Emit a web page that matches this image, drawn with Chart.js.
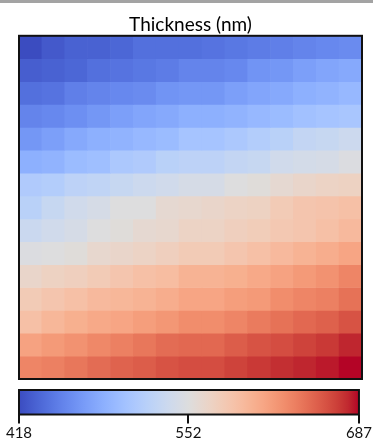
<!DOCTYPE html>
<html>
<head>
<meta charset="utf-8">
<script src="https://cdn.jsdelivr.net/npm/chart.js@4.4.0/dist/chart.umd.min.js"></script>
<style>
  html, body { margin: 0; padding: 0; background: #fff; }
  body { width: 373px; height: 439px; position: relative; overflow: hidden; }
  #topRule { position: absolute; left: 0; top: 0; width: 373px; height: 3px; background: #a3a3a3; }
  #heatWrap { position: absolute; left: 0; top: 0; width: 373px; height: 384px; }
  #barWrap { position: absolute; left: 0; top: 384px; width: 373px; height: 55px; }
</style>
</head>
<body>
<div id="topRule"></div>
<div id="heatWrap"><canvas id="heat"></canvas></div>
<div id="barWrap"><canvas id="cbar"></canvas></div>
<script>
// Film thickness map (nm), 15 x 15 measurement grid; row 0 is the top edge.
const columns = ['1','2','3','4','5','6','7','8','9','10','11','12','13','14','15'];
const rows    = ['1','2','3','4','5','6','7','8','9','10','11','12','13','14','15'];
const thickness = [
  [418, 426, 431, 431, 434, 440, 440, 440, 442, 445, 448, 450, 453, 456, 458],
  [429, 431, 434, 440, 442, 445, 448, 453, 453, 456, 464, 466, 472, 477, 480],
  [440, 442, 450, 453, 456, 458, 464, 466, 466, 472, 477, 480, 485, 488, 493],
  [453, 456, 461, 466, 472, 477, 480, 485, 485, 488, 493, 496, 501, 504, 507],
  [466, 472, 480, 485, 488, 493, 496, 504, 504, 509, 515, 520, 528, 531, 536],
  [485, 488, 496, 499, 509, 512, 520, 523, 523, 528, 531, 539, 542, 544, 550],
  [512, 515, 523, 526, 531, 536, 539, 544, 544, 552, 555, 561, 566, 569, 571],
  [520, 531, 539, 544, 552, 552, 561, 563, 566, 569, 571, 579, 585, 587, 590],
  [534, 539, 544, 552, 555, 561, 563, 569, 569, 574, 577, 582, 585, 590, 596],
  [550, 552, 555, 563, 566, 569, 574, 579, 579, 585, 590, 596, 601, 606, 612],
  [566, 571, 574, 579, 585, 590, 593, 601, 601, 604, 609, 614, 620, 625, 633],
  [579, 585, 590, 596, 598, 601, 606, 612, 612, 617, 620, 628, 633, 636, 644],
  [590, 598, 604, 609, 612, 617, 622, 628, 628, 633, 639, 644, 649, 653, 660],
  [614, 620, 625, 631, 636, 641, 647, 649, 649, 655, 660, 663, 668, 672, 679],
  [633, 636, 641, 647, 652, 655, 660, 663, 663, 668, 672, 676, 679, 682, 687]
];
const colorbarTicks = [418, 552, 687];
const vMin = 418;
const vMax = 687;

// Diverging blue-white-red colour map (coolwarm), 33 evenly spaced stops.
const coolwarm = [
  [59,76,192],[68,90,204],[77,104,215],[87,117,225],[98,130,234],[108,142,241],
  [119,154,247],[130,165,251],[141,176,254],[152,185,255],[163,194,255],[174,201,253],
  [184,208,249],[194,213,244],[204,217,238],[213,219,230],[221,221,221],[229,216,209],
  [236,211,197],[241,204,184],[245,196,172],[247,187,159],[247,177,145],[247,166,133],
  [244,154,120],[241,141,108],[236,127,97],[229,112,86],[222,96,76],[213,80,66],
  [203,62,56],[192,40,47],[180,4,38]
];

function colorFor(v) {
  let t = (v - vMin) / (vMax - vMin);
  t = Math.max(0, Math.min(1, t));
  const pos = t * (coolwarm.length - 1);
  const i = Math.min(Math.floor(pos), coolwarm.length - 2);
  const f = pos - i;
  const a = coolwarm[i], b = coolwarm[i + 1];
  const c = a.map((x, k) => Math.round(x + (b[k] - x) * f));
  return `rgb(${c[0]},${c[1]},${c[2]})`;
}

// Dark outline around the plotting area.
const frame = {
  id: 'frame',
  afterDatasetsDraw(chart) {
    const { ctx, chartArea: a } = chart;
    ctx.save();
    ctx.strokeStyle = '#111';
    ctx.lineWidth = 2;
    ctx.strokeRect(a.left, a.top, a.right - a.left, a.bottom - a.top);
    ctx.restore();
  }
};

// Heat map: one floating-bar dataset per grid row, spanning [row, row + 1].
const heatDatasets = thickness.map((vals, r) => ({
  label: rows[r],
  data: columns.map(() => [r, r + 1]),
  backgroundColor: vals.map(colorFor),
  borderWidth: 0,
  barPercentage: 1,
  categoryPercentage: 1,
  grouped: false
}));

new Chart(document.getElementById('heat'), {
  type: 'bar',
  data: { labels: columns, datasets: heatDatasets },
  options: {
    responsive: true,
    maintainAspectRatio: false,
    animation: false,
    layout: { padding: { left: 19, right: 11, top: 0, bottom: 5 } },
    scales: {
      x: { display: false },
      y: { display: false, min: 0, max: rows.length, reverse: true }
    },
    plugins: {
      legend: { display: false },
      tooltip: { enabled: false },
      title: {
        display: true,
        text: 'Thickness (nm)',
        color: '#000',
        font: { family: 'Lato', size: 19, weight: 'normal', lineHeight: 1.2 },
        padding: { top: 13, bottom: 0 }
      }
    }
  },
  plugins: [frame]
});

// Colour bar: a single floating bar from vMin to vMax filled with the map's gradient.
new Chart(document.getElementById('cbar'), {
  type: 'bar',
  data: {
    labels: [''],
    datasets: [{
      data: [[vMin, vMax]],
      borderWidth: 0,
      barPercentage: 1,
      categoryPercentage: 1,
      backgroundColor(ctx) {
        const chart = ctx.chart;
        if (!chart.chartArea) return null;
        const xs = chart.scales.x;
        const g = chart.ctx.createLinearGradient(xs.getPixelForValue(vMin), 0, xs.getPixelForValue(vMax), 0);
        coolwarm.forEach((c, i) => g.addColorStop(i / (coolwarm.length - 1), `rgb(${c[0]},${c[1]},${c[2]})`));
        return g;
      }
    }]
  },
  options: {
    indexAxis: 'y',
    responsive: true,
    maintainAspectRatio: false,
    animation: false,
    layout: { padding: { left: 19, right: 12, top: 6, bottom: 0 } },
    scales: {
      x: {
        type: 'linear',
        min: vMin,
        max: vMax,
        afterBuildTicks(scale) { scale.ticks = colorbarTicks.map(v => ({ value: v })); },
        border: { display: false },
        grid: { drawOnChartArea: false, drawTicks: true, tickLength: 9, color: '#111', lineWidth: 2 },
        ticks: {
          color: '#111',
          padding: 1,
          maxRotation: 0,
          autoSkip: false,
          font: { family: 'Lato', size: 15, lineHeight: 1.1 },
          callback: v => String(v)
        }
      },
      y: { display: false }
    },
    plugins: { legend: { display: false }, tooltip: { enabled: false } }
  },
  plugins: [frame]
});
</script>
</body>
</html>
